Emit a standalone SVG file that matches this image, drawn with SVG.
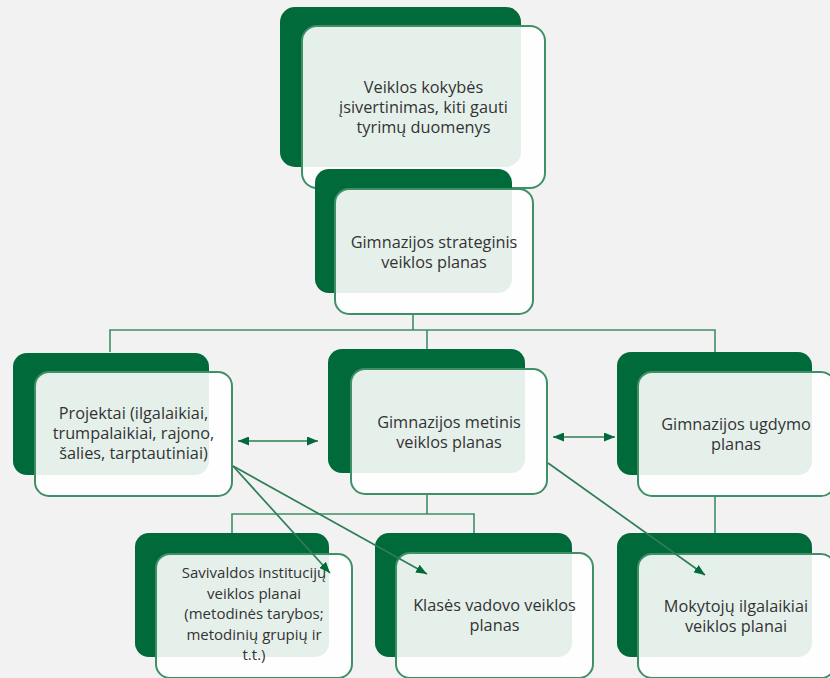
<svg xmlns="http://www.w3.org/2000/svg" width="830" height="678" viewBox="0 0 830 678">
<defs>
<style>
.bg{fill:#f2f2f2}
.back{fill:#006a3a}
.front{fill:#ffffff;fill-opacity:0.9;stroke:#3f8f67;stroke-width:2}
.t{font-family:"Open Sans","Liberation Sans",sans-serif;font-size:16.3px;fill:#333333;text-anchor:middle}
.s{font-size:15px}
.ln{fill:none;stroke:#3f8f67;stroke-width:1.6}
.ar{fill:none;stroke:#2f7d55;stroke-width:1.7}
</style>
<marker id="ah" viewBox="0 0 11 9" refX="11" refY="4.5" markerWidth="11" markerHeight="9" markerUnits="userSpaceOnUse" orient="auto-start-reverse">
<path d="M0,0 L11,4.5 L0,9 z" fill="#006a3a"/>
</marker>
</defs>
<rect class="bg" x="0" y="0" width="830" height="678"/>
<g id="n-top">
<rect class="back" x="280" y="7" width="241" height="160" rx="15"/>
<rect class="front" x="302" y="26" width="243" height="162" rx="15"/>
<text class="t" x="423.5" y="93">Veiklos kokybės</text>
<text class="t" x="423.5" y="113">įsivertinimas, kiti gauti</text>
<text class="t" x="423.5" y="133">tyrimų duomenys</text>
</g>
<g id="n-strateginis">
<rect class="back" x="315" y="169" width="197" height="124" rx="14"/>
<rect class="front" x="335" y="189" width="198" height="125" rx="14"/>
<text class="t" x="434" y="248">Gimnazijos strateginis</text>
<text class="t" x="434" y="268">veiklos planas</text>
</g>
<g id="n-projektai">
<rect class="back" x="13" y="353" width="196" height="122" rx="14"/>
<rect class="front" x="35" y="372" width="197" height="124" rx="14"/>
<text class="t" x="133.5" y="419">Projektai (ilgalaikiai,</text>
<text class="t" x="133.5" y="439">trumpalaikiai, rajono,</text>
<text class="t" x="133.5" y="459">šalies, tarptautiniai)</text>
</g>
<g id="n-metinis">
<rect class="back" x="328" y="349" width="197" height="124" rx="14"/>
<rect class="front" x="351" y="369" width="196" height="125" rx="14"/>
<text class="t" x="449" y="428">Gimnazijos metinis</text>
<text class="t" x="449" y="448">veiklos planas</text>
</g>
<g id="n-ugdymo">
<rect class="back" x="617" y="352" width="195" height="123" rx="14"/>
<rect class="front" x="638" y="372" width="197" height="124" rx="14"/>
<text class="t" x="736" y="430">Gimnazijos ugdymo</text>
<text class="t" x="736" y="450">planas</text>
</g>
<g id="n-savivaldos">
<rect class="back" x="135" y="533" width="194" height="124" rx="14"/>
<rect class="front" x="156" y="554" width="196" height="124" rx="14"/>
<text class="t s" x="254" y="578">Savivaldos institucijų</text>
<text class="t s" x="254" y="598.5">veiklos planai</text>
<text class="t s" x="254" y="619">(metodinės tarybos;</text>
<text class="t s" x="254" y="639.5">metodinių grupių ir</text>
<text class="t s" x="254" y="660">t.t.)</text>
</g>
<g id="n-klases">
<rect class="back" x="375" y="533" width="197" height="124" rx="14"/>
<rect class="front" x="396" y="553" width="197" height="125" rx="14"/>
<text class="t" x="494.5" y="611">Klasės vadovo veiklos</text>
<text class="t" x="494.5" y="631">planas</text>
</g>
<g id="n-mokytoju">
<rect class="back" x="617" y="533" width="195" height="124" rx="14"/>
<rect class="front" x="638" y="554" width="197" height="124" rx="14"/>
<text class="t" x="736" y="612">Mokytojų ilgalaikiai</text>
<text class="t" x="736" y="632">veiklos planai</text>
</g>
<g id="connectors">
<path class="ln" d="M413,314 V330 M110,352 V330 H715 V352 M427,330 V349"/>
<path class="ln" d="M427,494 V514 M232,533 V514 H474 V533"/>
<path class="ln" d="M715,496 V533"/>
<path class="ar" d="M238,441 H318" marker-start="url(#ah)" marker-end="url(#ah)"/>
<path class="ar" d="M553,437 H615" marker-start="url(#ah)" marker-end="url(#ah)"/>
<path class="ar" d="M233,466 L330,573" marker-end="url(#ah)"/>
<path class="ar" d="M233,466 L427,574" marker-end="url(#ah)"/>
<path class="ar" d="M548,463 L705,575" marker-end="url(#ah)"/>
</g>
</svg>
